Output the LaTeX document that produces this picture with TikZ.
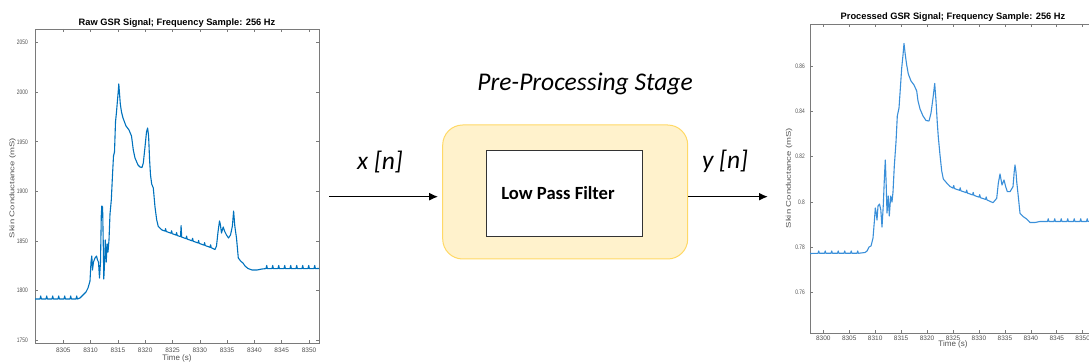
\documentclass[tikz,border=0pt]{standalone}
\usepackage{fontspec}
\setmainfont{Carlito}
\newfontfamily\plotfont{Liberation Sans}
\usetikzlibrary{arrows.meta}
\definecolor{traceblue}{HTML}{0072BD}
\definecolor{tracelight}{HTML}{3A8FD9}
\definecolor{axisgray}{HTML}{7A7A7A}
\definecolor{ticktext}{HTML}{505050}
\definecolor{stagefill}{HTML}{FFF2CC}
\definecolor{stageedge}{HTML}{FFD966}
% narrow figures for the value axis
\newcommand{\narrowlbl}[1]{\scalebox{0.75}[1]{#1}}
% thin glyphs for the rotated axis caption
\newcommand{\thinlbl}[1]{\scalebox{1}[0.72]{#1}}
\begin{document}
\begin{tikzpicture}[x=1pt,y=-1pt,
  axisline/.style={draw=axisgray,line width=0.9pt},
  tickmark/.style={draw=axisgray,line width=0.6pt},
  ticklbl/.style={font=\plotfont\fontsize{6.5}{7}\selectfont,text=ticktext,inner sep=0pt},
  plottitle/.style={font=\plotfont\bfseries\fontsize{9.3}{11}\selectfont,inner sep=0pt},
  axlabel/.style={font=\plotfont\fontsize{8}{9.5}\selectfont,text=ticktext,inner sep=0pt},
  condlabel/.style={font=\plotfont\fontsize{9.5}{11}\selectfont,text=ticktext,inner sep=0pt},
  trace/.style={line width=1.1pt,line join=round},
  arr/.style={line width=1.6pt,-{Latex[length=9pt,width=8pt]}},
  stagebox/.style={draw=stageedge,fill=stagefill,line width=1pt,rounded corners=20pt,
    minimum width=245pt,minimum height=134pt,inner sep=0pt},
  filterbox/.style={draw=black!80,fill=white,line width=0.8pt,
    minimum width=156pt,minimum height=86pt,inner sep=0pt},
  filtertext/.style={font=\bfseries\fontsize{18.6}{22}\selectfont,inner sep=0pt},
  sig/.style={font=\itshape\fontsize{25.5}{30}\selectfont,inner sep=0pt}]
\useasboundingbox (0,0) rectangle (1089,363);
\clip (0,0) rectangle (1089,363);

% ---------------- raw signal plot ----------------
\draw[axisline] (35,29) rectangle (319,343);
\foreach \t in {5,10,...,50}{
  \pgfmathsetmacro\px{36+5.46*\t}
  \draw[tickmark] (\px,343) -- (\px,340) (\px,29) -- (\px,32);
  \pgfmathtruncatemacro\lab{8300+\t}
  \node[ticklbl] (rawx\t) at (\px,350) {\lab};
}
\foreach \k/\v in {0/1750,1/1800,2/1850,3/1900,4/1950,5/2000,6/2050}{
  \pgfmathsetmacro\py{340-49.55*\k}
  \draw[tickmark] (35,\py) -- (38,\py) (319,\py) -- (316,\py);
  \node[ticklbl,anchor=east] (rawy\k) at (28,\py) {\narrowlbl{\v}};
}
\node[plottitle] (rawtitle) at (177,23) {Raw GSR Signal; Frequency Sample: 256 Hz};
\node[axlabel] (rawtime) at (177,358.5) {Time (s)};
\node[condlabel,rotate=90] (rawcond) at (12.5,188) {\thinlbl{Skin Conductance (mS)}};

\draw[trace,traceblue] (35,299)
  \foreach \x in {40,46,...,76}{ -- (\x,299) -- ({\x+0.7},296) -- ({\x+1.4},299) }
  -- (80,298) -- (82,296) -- (84,294) -- (86,292) -- (88,288) -- (90,281)
  -- (91,262) -- (91.8,256) -- (92.5,270) -- (93.5,262) -- (95,258) -- (96.5,256)
  -- (97.5,260) -- (98.5,262) -- (99.5,278) -- (100.5,262) -- (101.3,215)
  -- (101.8,206) -- (102.6,207) -- (103.2,240) -- (103.8,279) -- (104.6,262)
  -- (105.3,240) -- (106.2,262) -- (107.2,244) -- (108,252) -- (109,240)
  -- (110,214) -- (111.3,200) -- (112.5,175) -- (113.5,156) -- (114.5,152)
  -- (115.5,122) -- (116.5,112) -- (117.5,100) -- (118.2,92) -- (118.8,84)
  -- (119.4,92) -- (120.3,104) -- (121.5,112) -- (123,118) -- (126,126)
  -- (129,130) -- (131.5,136) -- (133.3,150) -- (135,158) -- (138,165)
  -- (140,167) -- (142,167.5) -- (143.3,163) -- (145,147) -- (146.5,132)
  -- (147.6,128) -- (148.6,136) -- (149.6,160) -- (150.5,175) -- (151.7,184)
  -- (153.3,188) -- (155,207) -- (156.7,220) -- (158.3,226.5) -- (162,230)
  \foreach \x/\h in {165/2.5,171/2.5,176/2.5,180.5/11,186/2.5,192/2.5,198/2.5,204/2.5,210/2.5}{
    -- (\x,{230+0.36*(\x-162)}) -- ({\x+0.6},{230+0.36*(\x-162)-\h}) -- ({\x+1.2},{230+0.36*(\x+1.2-162)}) }
  -- (215,249.5) -- (216.5,246) -- (218,232) -- (219.5,221) -- (220.3,224)
  -- (221.5,233) -- (223.2,227) -- (224.5,231) -- (226.5,235) -- (228.5,238)
  -- (230.5,235) -- (232.4,226) -- (233.6,211) -- (234.8,226) -- (236.5,238)
  -- (238.3,258) -- (241,261.5) -- (243,263) -- (245,266) -- (248,268.5)
  -- (252,270) -- (257,270) -- (262,269)
  \foreach \x in {266,272,...,314}{ -- (\x,268.6) -- ({\x+0.7},265.5) -- ({\x+1.4},268.6) }
  -- (319,268.5);

% ---------------- processed signal plot ----------------
\draw[axisline] (1089,24) -- (810,24) -- (810,333) -- (1089,333);
\foreach \t in {0,5,...,50}{
  \pgfmathsetmacro\px{823.3+5.188*\t}
  \draw[tickmark] (\px,333) -- (\px,330) (\px,24) -- (\px,27);
  \pgfmathtruncatemacro\lab{8300+\t}
  \node[ticklbl] (prox\t) at (\px,338) {\lab};
}
\foreach \k/\v in {0/0.76,1/0.78,2/0.8,3/0.82,4/0.84,5/0.86}{
  \pgfmathsetmacro\py{292.4-45.26*\k}
  \draw[tickmark] (810,\py) -- (813,\py);
  \node[ticklbl,anchor=east] (proy\k) at (805,\py) {\narrowlbl{\v}};
}
\node[plottitle] (protitle) at (953,17) {Processed GSR Signal; Frequency Sample: 256 Hz};
\node[axlabel] (protime) at (953,344.5) {Time (s)};
\node[condlabel,rotate=90] (procond) at (789,178) {\thinlbl{Skin Conductance (mS)}};

\draw[trace,tracelight] (810,253.5)
  \foreach \x in {818,824.5,...,862}{ -- (\x,253.3) -- ({\x+0.7},251) -- ({\x+1.4},253.3) }
  -- (865,252.5) -- (867,251) -- (869,247) -- (871,246) -- (873,238)
  -- (874.3,222) -- (875.3,208) -- (876.2,213) -- (877,220) -- (878,206)
  -- (879.5,204) -- (880.8,210) -- (882,227) -- (883.3,205) -- (884.5,175)
  -- (885.3,160) -- (886.2,185) -- (887,213) -- (888.3,196) -- (889.3,216)
  -- (890.7,196) -- (892,202) -- (893,192) -- (894.3,166) -- (896,142)
  -- (897.3,116) -- (899,108) -- (900.3,89) -- (901.7,68) -- (903,55)
  -- (904,43.5) -- (905.3,55) -- (906.7,65) -- (908.3,74) -- (911,81)
  -- (914,85) -- (916.7,91) -- (918,101) -- (920,109) -- (923,116)
  -- (926,120.5) -- (929,121) -- (931,113) -- (933,98) -- (934.7,83.5)
  -- (936,101) -- (937.3,123) -- (938.3,137) -- (940,155) -- (941.7,171)
  -- (943.3,179) -- (946.7,183) -- (950,186.5)
  \foreach \x in {953,959.5,...,990}{
    -- (\x,{187+0.35*(\x-950)}) -- ({\x+0.7},{187+0.35*(\x-950)-2.5}) -- ({\x+1.4},{187+0.35*(\x+1.4-950)}) }
  -- (993,202.7) -- (996.7,198.3) -- (998.3,183.3) -- (1000,174) -- (1002,185)
  -- (1004,180) -- (1005.7,186.7) -- (1007.3,191.7) -- (1010,191.7)
  -- (1013,186.7) -- (1014.2,172) -- (1015,165) -- (1016,172) -- (1016.7,181.7)
  -- (1018.3,196.7) -- (1020,213.3) -- (1023.3,216.7) -- (1026.7,219)
  -- (1030,222.5) -- (1035,222.5) -- (1040,221.5)
  \foreach \x in {1047.5,1054,...,1087}{ -- (\x,221.5) -- ({\x+0.7},218.8) -- ({\x+1.4},221.5) }
  -- (1089,221.3);

% ---------------- pre-processing stage ----------------
\node[sig] (stagetitle) at (585,84) {Pre-Processing Stage};
\node[stagebox] (stage) at (565.2,192) {};
\node[filterbox] (filter) at (564,193) {};
\node[filtertext] (filterlabel) at (558,192.7) {Low Pass Filter};
\node[sig] (xsig) at (380,161.7) {x [n]};
\node[sig] (ysig) at (725,161.7) {y [n]};
\coordinate (xin) at (329,196.7);
\coordinate (yout) at (768,196.7);
\draw[arr,shorten >=4pt] (xin) -- (xin -| stage.west);
\draw[arr] (stage.east |- yout) -- (yout);
\end{tikzpicture}
\end{document}
